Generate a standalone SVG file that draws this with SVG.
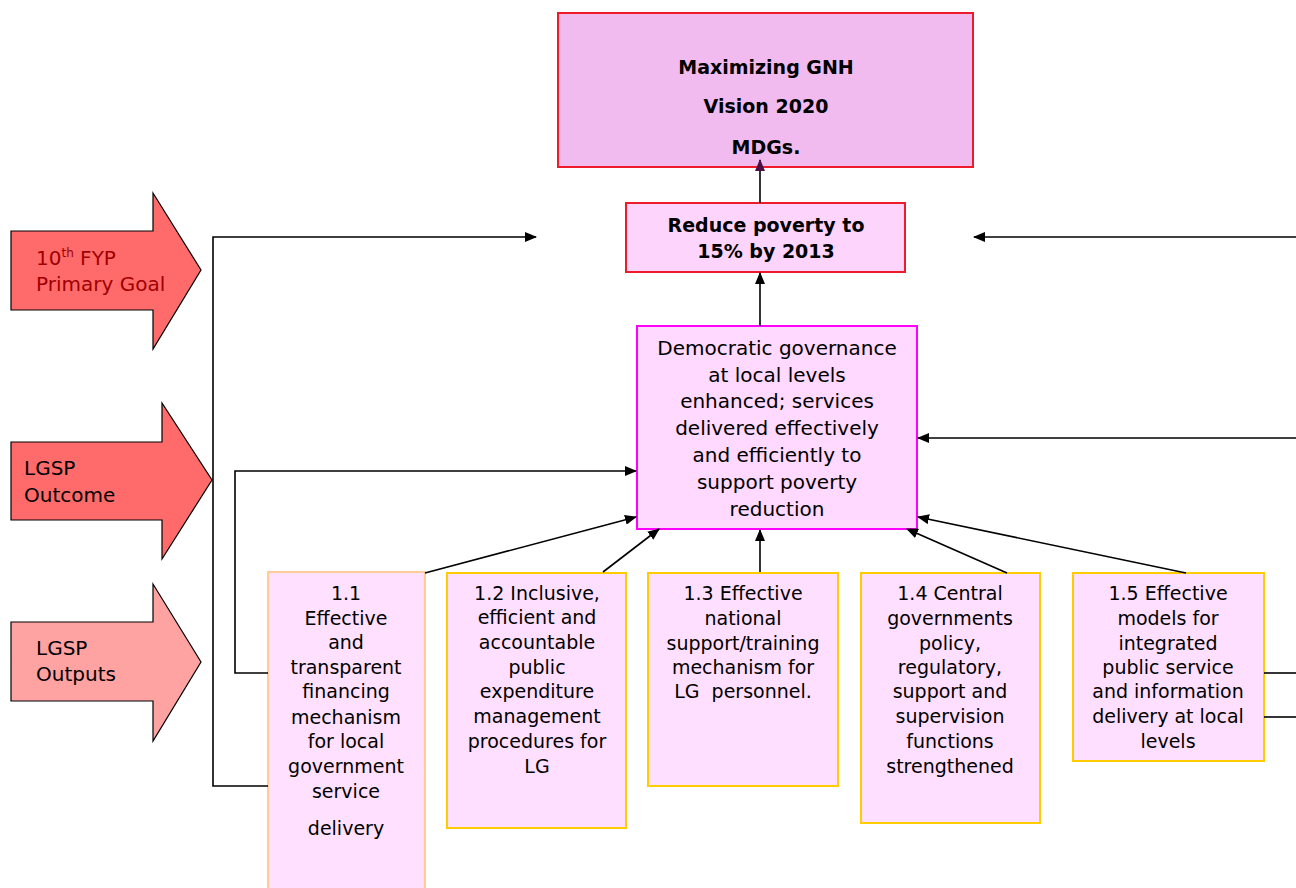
<svg xmlns="http://www.w3.org/2000/svg" width="1296" height="888" viewBox="0 0 1296 888">
  <style>
    text { font-family: "DejaVu Sans", "Liberation Sans", sans-serif; fill: #000; text-anchor: middle; }
    .bold { font-weight: bold; font-size: 19px; }
    .body { font-size: 19px; }
    .wide { font-size: 20px; }
    .lbl { font-size: 20px; text-anchor: start; }
    .out { fill: #ffdfff; stroke: #ffcc00; stroke-width: 2; }
    .conn { stroke: #000; stroke-width: 1.6; fill: none; }
    .shape-arrow { stroke: #000; stroke-width: 1.2; }
  </style>
  <defs>
    <marker id="ah" viewBox="0 0 12 10" refX="11" refY="5" markerWidth="12" markerHeight="10" markerUnits="userSpaceOnUse" orient="auto">
      <path d="M0,0 L12,5 L0,10 z" fill="#000"/>
    </marker>
    <marker id="ahp" viewBox="0 0 12 10" refX="11" refY="5" markerWidth="12" markerHeight="10" markerUnits="userSpaceOnUse" orient="auto">
      <path d="M0,0 L12,5 L0,10 z" fill="#4a0f45"/>
    </marker>
  </defs>

  <rect width="1296" height="888" fill="#fff"/>

  <!-- level labels on the left -->
  <g id="label-goal">
    <path class="shape-arrow" d="M11,231 H153 V193 L201,270 L153,349 V310 H11 Z" fill="#ff6b6b"/>
    <text class="lbl" x="36" y="265" style="fill:#a00000">10<tspan font-size="12" dy="-8">th</tspan><tspan dy="8"> FYP</tspan></text>
    <text class="lbl" x="36" y="291" style="fill:#a00000">Primary Goal</text>
  </g>
  <g id="label-outcome">
    <path class="shape-arrow" d="M11,442 H162 V403 L212,480 L162,559 V520 H11 Z" fill="#ff6b6b"/>
    <text class="lbl" x="24" y="475">LGSP</text>
    <text class="lbl" x="24" y="502">Outcome</text>
  </g>
  <g id="label-outputs">
    <path class="shape-arrow" d="M11,622 H153 V584 L201,662 L153,741 V701 H11 Z" fill="#ffa2a2"/>
    <text class="lbl" x="36" y="655">LGSP</text>
    <text class="lbl" x="36" y="681">Outputs</text>
  </g>

  <!-- goal boxes -->
  <g id="node-vision">
    <rect x="558" y="13" width="415" height="154" fill="#f1bbef" stroke="#ee1c2a" stroke-width="2"/>
    <text class="bold" x="766" y="74">Maximizing GNH</text>
    <text class="bold" x="766" y="113">Vision 2020</text>
    <text class="bold" x="766" y="154">MDGs.</text>
  </g>
  <g id="node-poverty">
    <rect x="626" y="203" width="279" height="69" fill="#fdd5fc" stroke="#ee1c2a" stroke-width="2"/>
    <text class="bold" x="766" y="232">Reduce poverty to</text>
    <text class="bold" x="766" y="258">15% by 2013</text>
  </g>
  <g id="node-outcome">
    <rect x="637" y="326" width="280" height="203" fill="#ffd9ff" stroke="#ff00ff" stroke-width="2"/>
    <text class="wide" x="777" y="355">Democratic governance</text>
    <text class="wide" x="777" y="382">at local levels</text>
    <text class="wide" x="777" y="408">enhanced; services</text>
    <text class="wide" x="777" y="435">delivered effectively</text>
    <text class="wide" x="777" y="462">and efficiently to</text>
    <text class="wide" x="777" y="489">support poverty</text>
    <text class="wide" x="777" y="516">reduction</text>
  </g>

  <!-- outputs -->
  <g id="node-out-1-1">
    <rect x="268" y="572" width="157" height="330" fill="#ffe1ff" stroke="#ffcc99" stroke-width="2"/>
    <text class="body" x="346" y="600">1.1</text>
    <text class="body" x="346" y="625">Effective</text>
    <text class="body" x="346" y="649">and</text>
    <text class="body" x="346" y="674">transparent</text>
    <text class="body" x="346" y="698">financing</text>
    <text class="body" x="346" y="724">mechanism</text>
    <text class="body" x="346" y="748">for local</text>
    <text class="body" x="346" y="773">government</text>
    <text class="body" x="346" y="798">service</text>
    <text class="body" x="346" y="835">delivery</text>
  </g>
  <g id="node-out-1-2">
    <rect class="out" x="447" y="573" width="179" height="255"/>
    <text class="body" x="537" y="600">1.2 Inclusive,</text>
    <text class="body" x="537" y="624">efficient and</text>
    <text class="body" x="537" y="649">accountable</text>
    <text class="body" x="537" y="674">public</text>
    <text class="body" x="537" y="698">expenditure</text>
    <text class="body" x="537" y="723">management</text>
    <text class="body" x="537" y="748">procedures for</text>
    <text class="body" x="537" y="773">LG</text>
  </g>
  <g id="node-out-1-3">
    <rect class="out" x="648" y="573" width="190" height="213"/>
    <text class="body" x="743" y="600">1.3 Effective</text>
    <text class="body" x="743" y="625">national</text>
    <text class="body" x="743" y="650">support/training</text>
    <text class="body" x="743" y="674">mechanism for</text>
    <text class="body" x="743" y="698" xml:space="preserve">LG  personnel.</text>
  </g>
  <g id="node-out-1-4">
    <rect class="out" x="861" y="573" width="179" height="250"/>
    <text class="body" x="950" y="600">1.4 Central</text>
    <text class="body" x="950" y="625">governments</text>
    <text class="body" x="950" y="650">policy,</text>
    <text class="body" x="950" y="674">regulatory,</text>
    <text class="body" x="950" y="698">support and</text>
    <text class="body" x="950" y="723">supervision</text>
    <text class="body" x="950" y="748">functions</text>
    <text class="body" x="950" y="773">strengthened</text>
  </g>
  <g id="node-out-1-5">
    <rect class="out" x="1073" y="573" width="191" height="188"/>
    <text class="body" x="1168" y="600">1.5 Effective</text>
    <text class="body" x="1168" y="625">models for</text>
    <text class="body" x="1168" y="650">integrated</text>
    <text class="body" x="1168" y="674">public service</text>
    <text class="body" x="1168" y="698">and information</text>
    <text class="body" x="1168" y="723">delivery at local</text>
    <text class="body" x="1168" y="748">levels</text>
  </g>

  <!-- connectors, drawn last so arrow tips sit over box edges -->
  <g id="connectors">
    <path class="conn" d="M268,786 H213 V237 H536" marker-end="url(#ah)"/>
    <path class="conn" d="M1296,237 H974" marker-end="url(#ah)"/>
    <path class="conn" d="M1296,438 H918" marker-end="url(#ah)"/>
    <path class="conn" d="M268,673 H235 V471 H636" marker-end="url(#ah)"/>
    <path class="conn" d="M1264,673 H1296"/>
    <path class="conn" d="M1264,717 H1296"/>
    <path class="conn" d="M760,203 V160" marker-end="url(#ahp)"/>
    <path class="conn" d="M760,326 V273" marker-end="url(#ah)"/>
    <path class="conn" d="M425,573 L636,517" marker-end="url(#ah)"/>
    <path class="conn" d="M603,572 L659,529" marker-end="url(#ah)"/>
    <path class="conn" d="M760,572 V530" marker-end="url(#ah)"/>
    <path class="conn" d="M1007,573 L907,529" marker-end="url(#ah)"/>
    <path class="conn" d="M1186,573 L918,517" marker-end="url(#ah)"/>
  </g>
</svg>
